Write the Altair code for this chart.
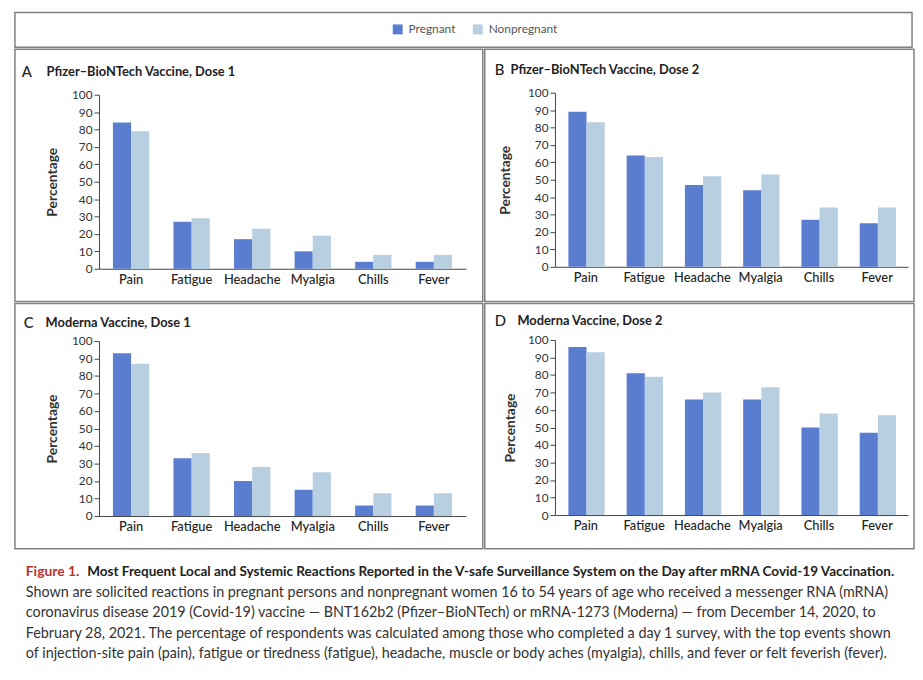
import altair as alt
import pandas as pd

# ---------------- data ----------------
categories = ["Pain", "Fatigue", "Headache", "Myalgia", "Chills", "Fever"]
groups = ["Pregnant", "Nonpregnant"]

pfizer1_preg = [84, 27, 17, 10, 4, 4]
pfizer1_non = [79, 29, 23, 19, 8, 8]
pfizer2_preg = [89, 64, 47, 44, 27, 25]
pfizer2_non = [83, 63, 52, 53, 34, 34]
moderna1_preg = [93, 33, 20, 15, 6, 6]
moderna1_non = [87, 36, 28, 25, 13, 13]
moderna2_preg = [96, 81, 66, 66, 50, 47]
moderna2_non = [93, 79, 70, 73, 58, 57]

panel_letters = ["A", "B", "C", "D"]
panel_titles = [
    "Pfizer\u2013BioNTech Vaccine, Dose 1",
    "Pfizer\u2013BioNTech Vaccine, Dose 2",
    "Moderna Vaccine, Dose 1",
    "Moderna Vaccine, Dose 2",
]

y_ticks = [0, 10, 20, 30, 40, 50, 60, 70, 80, 90, 100]

caption_prefix = "Figure 1."
caption_title = ("Most Frequent Local and Systemic Reactions Reported in the V-safe "
                 "Surveillance System on the Day after mRNA Covid-19 Vaccination.")
caption_body = [
    "Shown are solicited reactions in pregnant persons and nonpregnant women 16 to 54 years of age who received a messenger RNA (mRNA)",
    "coronavirus disease 2019 (Covid-19) vaccine \u2014 BNT162b2 (Pfizer\u2013BioNTech) or mRNA-1273 (Moderna) \u2014 from December 14, 2020, to",
    "February 28, 2021. The percentage of respondents was calculated among those who completed a day 1 survey, with the top events shown",
    "of injection-site pain (pain), fatigue or tiredness (fatigue), headache, muscle or body aches (myalgia), chills, and fever or felt feverish (fever).",
]

colors = ["#5a7dd0", "#b7cfe0"]
FONT = "Lato"
FRAME = "#808080"


def frame(preg, non):
    rows = []
    for c, p, n in zip(categories, preg, non):
        rows.append({"Reaction": c, "Group": "Pregnant", "Percentage": p})
        rows.append({"Reaction": c, "Group": "Nonpregnant", "Percentage": n})
    return pd.DataFrame(rows)


def panel(df, letter, title, w, h, xr, yr, lx, tx, ty, ytitle_x):
    bars = alt.Chart(df).mark_bar().encode(
        x=alt.X(
            "Reaction:N", sort=categories,
            scale=alt.Scale(range=xr, paddingInner=0.4, paddingOuter=0.23),
            axis=alt.Axis(
                title=None, labelAngle=0, ticks=False, labelPadding=5,
                offset=-(h - yr[0]), domainColor="#444", domainWidth=1,
                labelFont=FONT, labelFontSize=13, labelColor="#222",
                labelFontWeight=500,
            ),
        ),
        xOffset=alt.XOffset("Group:N", sort=groups,
                            scale=alt.Scale(paddingInner=0, paddingOuter=0)),
        y=alt.Y(
            "Percentage:Q",
            scale=alt.Scale(domain=[0, 100], range=yr, nice=False),
            axis=alt.Axis(
                title="Percentage", values=y_ticks, grid=False, offset=-xr[0],
                tickSize=5, tickColor="#444", domainColor="#444", labelPadding=2,
                labelFont=FONT, labelFontSize=12, labelColor="#333",
                titleFont=FONT, titleFontSize=14, titleFontWeight="bold",
                titleColor="#333", titleX=ytitle_x, titleY=(yr[0] + yr[1]) / 2,
                titleAlign="center", titleBaseline="middle",
            ),
        ),
        color=alt.Color(
            "Group:N", sort=groups,
            scale=alt.Scale(domain=groups, range=colors),
            legend=alt.Legend(
                title=None, orient="none", legendX=381, legendY=11,
                direction="horizontal", symbolType="square", symbolSize=100,
                symbolStrokeWidth=0, labelFont=FONT, labelFontSize=12,
                labelColor="#555", columnPadding=16, labelOffset=5, padding=0,
            ),
        ),
    )
    head = pd.DataFrame({"letter": [letter], "title": [title]})
    let_mark = alt.Chart(head).mark_text(
        align="left", baseline="middle", font=FONT, fontSize=15,
        fontWeight=500, color="#222",
    ).encode(x=alt.value(lx), y=alt.value(ty), text="letter:N")
    tit_mark = alt.Chart(head).mark_text(
        align="left", baseline="middle", font=FONT, fontSize=13,
        fontWeight="bold", color="#222",
    ).encode(x=alt.value(tx), y=alt.value(ty), text="title:N")
    return alt.layer(bars, let_mark, tit_mark).properties(width=w, height=h)


WA, WB = 473, 434
H1, H2 = 255, 248

pA = panel(frame(pfizer1_preg, pfizer1_non), panel_letters[0], panel_titles[0],
           WA, H1, [85, 456], [222, 46], 7, 32, 23, -47)
pB = panel(frame(pfizer2_preg, pfizer2_non), panel_letters[1], panel_titles[1],
           WB, H1, [71, 428], [220, 44], 10, 26, 21, -50)
pC = panel(frame(moderna1_preg, moderna1_non), panel_letters[2], panel_titles[2],
           WA, H2, [85, 456], [215, 38], 9, 31, 20, -47)
pD = panel(frame(moderna2_preg, moderna2_non), panel_letters[3], panel_titles[3],
           WB, H2, [71, 428], [214, 37], 10, 33, 18, -45)

strip = alt.Chart(pd.DataFrame({"v": [0]})).mark_rule(strokeOpacity=0).encode(
    x=alt.value(0), y=alt.value(0), y2=alt.value(1)
).properties(width=WA + WB, height=35)

cap_rows = [{"row": 0, "part": "prefix", "text": caption_prefix},
            {"row": 0, "part": "title", "text": caption_title}]
for i, line in enumerate(caption_body):
    cap_rows.append({"row": i + 1, "part": "body", "text": line})
cap_df = pd.DataFrame(cap_rows)

cap_y = alt.Y("row:O", axis=None,
              scale=alt.Scale(type="point", range=[22, 105], padding=0))
cap_base = alt.Chart(cap_df)
cap_pre = cap_base.transform_filter(alt.datum.part == "prefix").mark_text(
    align="left", baseline="middle", font=FONT, fontSize=14, fontWeight="bold",
    color="#b8312f", clip=True,
).encode(x=alt.value(11), y=cap_y, text="text:N")
cap_tit = cap_base.transform_filter(alt.datum.part == "title").mark_text(
    align="left", baseline="middle", font=FONT, fontSize=13.7, fontWeight="bold",
    color="#222", clip=True,
).encode(x=alt.value(73), y=cap_y, text="text:N")
cap_body = cap_base.transform_filter(alt.datum.part == "body").mark_text(
    align="left", baseline="middle", font=FONT, fontSize=14.5, color="#333",
    clip=True,
).encode(x=alt.value(11), y=cap_y, text="text:N")
caption = alt.layer(cap_pre, cap_tit, cap_body).properties(
    width=WA + WB, height=115,
    view=alt.ViewBackground(stroke="transparent"),
)

chart = alt.vconcat(
    strip,
    alt.hconcat(pA, pB, spacing=0),
    alt.hconcat(pC, pD, spacing=0),
    caption,
    spacing=0,
).resolve_scale(color="shared").properties(
    padding={"left": 6, "top": 0, "right": 0, "bottom": 0},
    background="white",
).configure_view(stroke=FRAME, strokeWidth=1.5)

chart.save("out.html", embed_options={"renderer": "svg", "actions": False})
